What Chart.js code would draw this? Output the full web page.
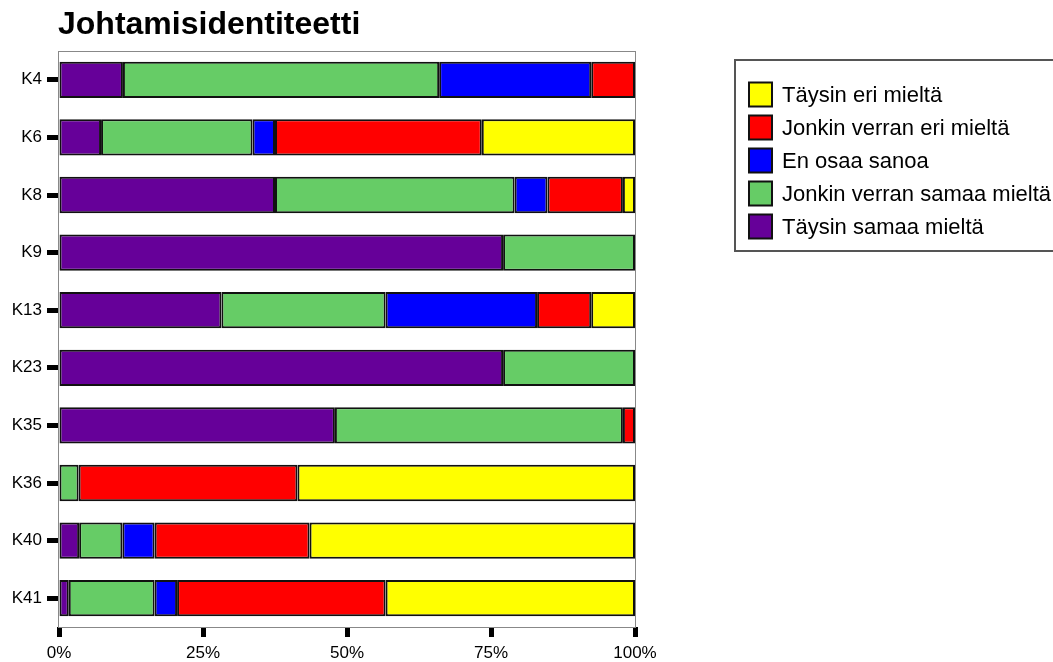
<!DOCTYPE html>
<html>
<head>
<meta charset="utf-8">
<script src="https://cdn.jsdelivr.net/npm/chart.js@4/dist/chart.umd.min.js"></script>
<style>
  body { margin: 0; background: #fff; }
  #wrap { width: 1053px; height: 662px; }
</style>
</head>
<body>
<div id="wrap"><canvas id="chart" width="1053" height="662"></canvas></div>
<script>
// --- DATA ---
const categories = ['K4', 'K6', 'K8', 'K9', 'K13', 'K23', 'K35', 'K36', 'K40', 'K41'];
const taysinSamaa = [11.1, 7.3, 37.5, 77.1, 28.2, 77.1, 47.9, 0, 3.5, 1.7];
const jonkinSamaa = [54.9, 26.3, 41.6, 22.9, 28.5, 22.9, 50.0, 3.4, 7.5, 14.9];
const enOsaa = [26.4, 3.9, 5.7, 0, 26.3, 0, 0, 0, 5.6, 3.9];
const jonkinEri = [7.6, 35.9, 13.1, 0, 9.4, 0, 2.1, 38.0, 26.9, 36.2];
const taysinEri = [0, 26.6, 2.1, 0, 7.6, 0, 0, 58.6, 56.5, 43.3];
const tickLabels = ['0%', '25%', '50%', '75%', '100%'];
const chartTitle = 'Johtamisidentiteetti';

const FONT = '"Liberation Sans", Arial, sans-serif';

function ds(label, data, color) {
    return {
        label, data,
        backgroundColor: color,
        borderColor: '#111',
        borderWidth: 2,
        borderSkipped: false,
        categoryPercentage: 1,
        barPercentage: 0.63
    };
}

// --- PLUGINS: frame, title, boxed legend ---
const frame = {
    id: 'frame',
    beforeDatasetsDraw(chart) {
        const a = chart.chartArea, ctx = chart.ctx;
        ctx.save();
        ctx.strokeStyle = '#888';
        ctx.lineWidth = 1;
        ctx.strokeRect(a.left - 0.5, a.top + 0.5, a.right - a.left + 1, a.bottom - a.top);
        ctx.restore();
    }
};

const extras = {
    id: 'extras',
    afterDraw(chart) {
        const ctx = chart.ctx;
        ctx.save();
        // title
        ctx.fillStyle = '#000';
        ctx.font = 'bold 32px ' + FONT;
        ctx.textBaseline = 'alphabetic';
        ctx.textAlign = 'left';
        ctx.fillText(chartTitle, 58, 34);

        // legend box
        ctx.strokeStyle = '#555';
        ctx.lineWidth = 2;
        ctx.strokeRect(735, 60, 340, 191);

        const items = chart.data.datasets.slice().reverse();
        ctx.font = '22px ' + FONT;
        ctx.textBaseline = 'middle';
        items.forEach((d, i) => {
            const cy = 94.5 + i * 33;
            ctx.fillStyle = d.backgroundColor;
            ctx.fillRect(749, cy - 12, 23, 24);
            ctx.strokeStyle = '#111';
            ctx.lineWidth = 2;
            ctx.strokeRect(749, cy - 12, 23, 24);
            ctx.fillStyle = '#000';
            ctx.fillText(d.label, 782, cy + 1);
        });
        ctx.restore();
    }
};

new Chart(document.getElementById('chart'), {
    type: 'bar',
    data: {
        labels: categories,
        datasets: [
            ds('Täysin samaa mieltä', taysinSamaa, '#660099'),
            ds('Jonkin verran samaa mieltä', jonkinSamaa, '#66CC66'),
            ds('En osaa sanoa', enOsaa, '#0000FF'),
            ds('Jonkin verran eri mieltä', jonkinEri, '#FF0000'),
            ds('Täysin eri mieltä', taysinEri, '#FFFF00')
        ]
    },
    options: {
        indexAxis: 'y',
        responsive: false,
        animation: false,
        layout: { padding: { top: 51, right: 418, left: 0, bottom: 0 } },
        plugins: {
            legend: { display: false },
            title: { display: false },
            tooltip: { enabled: false }
        },
        scales: {
            x: {
                stacked: true,
                min: 0, max: 100,
                afterFit: (s) => { s.height = 35; },
                border: { display: false },
                grid: { drawOnChartArea: false, tickLength: 10, tickWidth: 5, tickColor: '#000' },
                ticks: {
                    stepSize: 25,
                    padding: 6,
                    color: '#000',
                    maxRotation: 0,
                    font: { family: FONT, size: 17 },
                    callback: (v) => tickLabels[v / 25]
                }
            },
            y: {
                stacked: true,
                afterFit: (s) => { s.width = 59; },
                border: { display: false },
                grid: { offset: false, drawOnChartArea: false, tickLength: 12, tickWidth: 5, tickColor: '#000' },
                ticks: {
                    padding: 5,
                    color: '#000',
                    font: { family: FONT, size: 17 }
                }
            }
        }
    },
    plugins: [frame, extras]
});
</script>
</body>
</html>
